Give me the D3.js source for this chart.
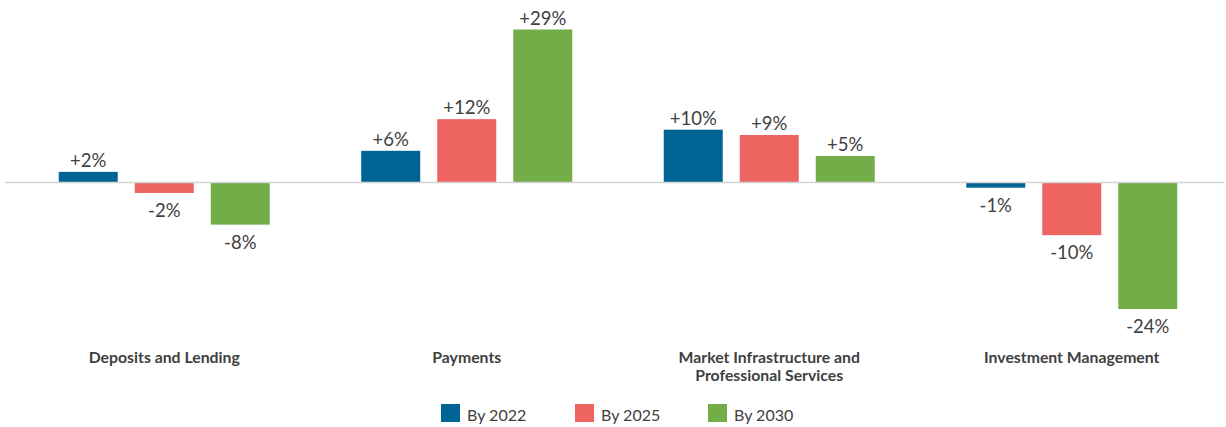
<!DOCTYPE html>
<html>
<head>
<meta charset="utf-8">
<script src="https://cdn.jsdelivr.net/npm/d3@7"></script>
<style>
  html, body { margin: 0; padding: 0; background: #fff; }
  svg { display: block; font-family: Lato, "Open Sans", sans-serif; }
</style>
</head>
<body>
<svg id="chart" width="1226" height="427"></svg>
<script>
// Segment names (multi-line labels split with \n)
const categories = [
  "Deposits and Lending",
  "Payments",
  "Market Infrastructure and\nProfessional Services",
  "Investment Management"
];
const seriesNames = ["By 2022", "By 2025", "By 2030"];
const seriesColors = ["#006494", "#ee6460", "#72ad48"];

// Percentage change per segment
const by2022 = [2, 6, 10, -1];
const by2025 = [-2, 12, 9, -10];
const by2030 = [-8, 29, 5, -24];
const seriesValues = [by2022, by2025, by2030];

const svg = d3.select("#chart");
const textColor = "#404040";

const x0 = d3.scaleBand().domain(categories).range([13, 1223]).paddingInner(0).paddingOuter(0);
const x1 = d3.scaleBand().domain(seriesNames).range([0, 211]).paddingInner(0.224).paddingOuter(0);
const y = d3.scaleLinear().domain([-24, 29]).range([309, 29.5]);
const y0 = y(0);

const rows = [];
categories.forEach((c, i) => {
  seriesNames.forEach((s, j) => {
    rows.push({ cat: c, series: s, value: seriesValues[j][i], color: seriesColors[j] });
  });
});

const groupOffset = (x0.bandwidth() - 211) / 2;
const bx = d => x0(d.cat) + groupOffset + x1(d.series);

// Bars
svg.append("g").selectAll("rect").data(rows).join("rect")
  .attr("x", bx)
  .attr("width", x1.bandwidth())
  .attr("y", d => Math.min(y(d.value), y0))
  .attr("height", d => Math.abs(y(d.value) - y0))
  .attr("fill", d => d.color);

// Zero line
svg.append("line")
  .attr("x1", 5).attr("x2", 1224)
  .attr("y1", y0).attr("y2", y0)
  .attr("stroke", "#d4d4d4").attr("stroke-width", 1.5);

// Value labels
svg.append("g").selectAll("text").data(rows).join("text")
  .attr("x", d => bx(d) + x1.bandwidth() / 2)
  .attr("y", d => d.value >= 0 ? y(d.value) - 5 : y(d.value) + 24)
  .attr("text-anchor", "middle")
  .attr("font-size", 18.5)
  .attr("fill", textColor)
  .text(d => (d.value > 0 ? "+" : "") + d.value + "%");

// Category labels
const catG = svg.append("g");
categories.forEach(c => {
  const t = catG.append("text")
    .attr("x", x0(c) + x0.bandwidth() / 2)
    .attr("y", 363)
    .attr("text-anchor", "middle")
    .attr("font-size", 15.8)
    .attr("font-weight", "bold")
    .attr("fill", textColor);
  c.split("\n").forEach((line, k) => {
    t.append("tspan")
      .attr("x", x0(c) + x0.bandwidth() / 2)
      .attr("dy", k === 0 ? 0 : 18)
      .text(line);
  });
});

// Legend
const legendX = [441, 575, 708];
const legend = svg.append("g").selectAll("g").data(seriesNames).join("g")
  .attr("transform", (d, i) => `translate(${legendX[i]},404)`);
legend.append("rect")
  .attr("width", 19).attr("height", 18)
  .attr("fill", (d, i) => seriesColors[i]);
legend.append("text")
  .attr("x", 26).attr("y", 17)
  .attr("font-size", 16)
  .attr("fill", textColor)
  .text(d => d);
</script>
</body>
</html>
